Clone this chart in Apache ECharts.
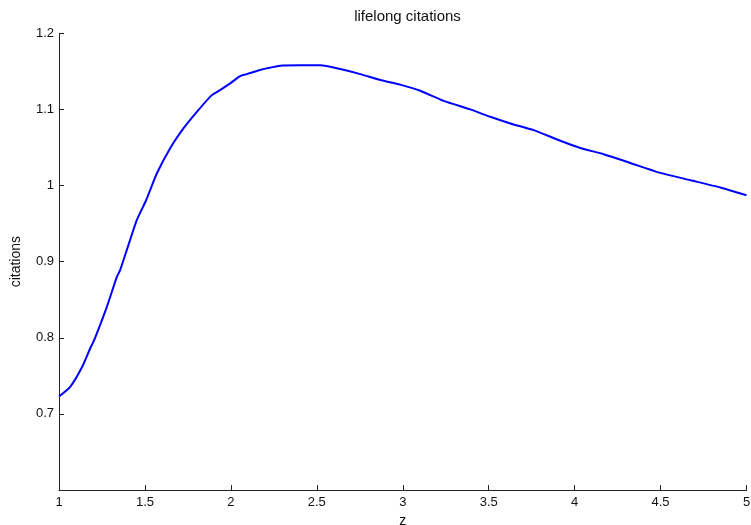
<!DOCTYPE html>
<html>
<head>
<meta charset="utf-8">
<script src="https://cdn.jsdelivr.net/npm/echarts@6/dist/echarts.min.js"></script>
<style>html,body{margin:0;padding:0;background:#fff;overflow:hidden;}#chart{width:751px;height:525px;}</style>
</head>
<body>
<div id="chart"></div>
<script>
var titleText = 'lifelong citations';
var xName = 'z';
var yName = 'citations';
var zValues = [1.0, 1.064, 1.132, 1.176, 1.21, 1.278, 1.336, 1.355, 1.394, 1.452, 1.507, 1.53, 1.569, 1.646, 1.724, 1.802, 1.889, 1.937, 1.996, 2.054, 2.093, 2.17, 2.209, 2.287, 2.403, 2.52, 2.636, 2.753, 2.869, 2.985, 3.102, 3.238, 3.393, 3.509, 3.626, 3.762, 3.898, 4.033, 4.169, 4.324, 4.499, 4.674, 4.848, 5.0];
var citations = [0.7228, 0.735, 0.7605, 0.7833, 0.800, 0.8403, 0.8797, 0.8886, 0.9149, 0.9543, 0.9807, 0.9938, 1.0158, 1.0487, 1.075, 1.0968, 1.1188, 1.1254, 1.1342, 1.1438, 1.1464, 1.1517, 1.1539, 1.1574, 1.1579, 1.1579, 1.153, 1.1464, 1.1386, 1.1326, 1.1245, 1.1113, 1.1, 1.0903, 1.0816, 1.0728, 1.0605, 1.0493, 1.0412, 1.0297, 1.0166, 1.007, 0.9974, 0.9872];

var data = zValues.map(function (z, i) { return [z, citations[i]]; });
var font = 'Liberation Sans, Arial, Helvetica, sans-serif';
var chart = echarts.init(document.getElementById('chart'), null, {renderer: 'canvas'});
chart.setOption({
  animation: false,
  backgroundColor: '#ffffff',
  title: {
    text: titleText,
    left: 402.5, textAlign: 'center', top: 4,
    textStyle: {fontSize: 15, fontWeight: 'normal', color: '#111', fontFamily: font}
  },
  grid: {left: 59, right: 4.5, top: 33.3, bottom: 35, containLabel: false, outerBoundsMode: 'none'},
  xAxis: {
    type: 'value', min: 1, max: 5, interval: 0.5,
    name: xName, nameLocation: 'middle', nameGap: 20,
    nameTextStyle: {fontSize: 14, color: '#111', fontFamily: font},
    axisLine: {show: true, lineStyle: {color: '#222', width: 1}},
    axisTick: {show: true, inside: true, length: 5, lineStyle: {color: '#222'}},
    axisLabel: {fontSize: 13, color: '#111', fontFamily: font, margin: 6},
    splitLine: {show: false}
  },
  yAxis: {
    type: 'value', min: 0.6, max: 1.2, interval: 0.1,
    name: yName, nameLocation: 'middle', nameGap: 36, nameRotate: 90,
    nameTextStyle: {fontSize: 14, color: '#111', fontFamily: font},
    axisLine: {show: true, lineStyle: {color: '#222', width: 1}},
    axisTick: {show: true, inside: true, length: 5, lineStyle: {color: '#222'}},
    axisLabel: {fontSize: 13, color: '#111', fontFamily: font, margin: 5,
      formatter: function (v) { return Math.abs(v - 0.6) < 1e-9 ? '' : String(Math.round(v * 10) / 10); }},
    splitLine: {show: false}
  },
  series: [{
    type: 'line', data: data, showSymbol: false, smooth: 0.2,
    lineStyle: {color: '#0000ff', width: 2},
    itemStyle: {color: '#0000ff'}
  }]
});
</script>
</body>
</html>
